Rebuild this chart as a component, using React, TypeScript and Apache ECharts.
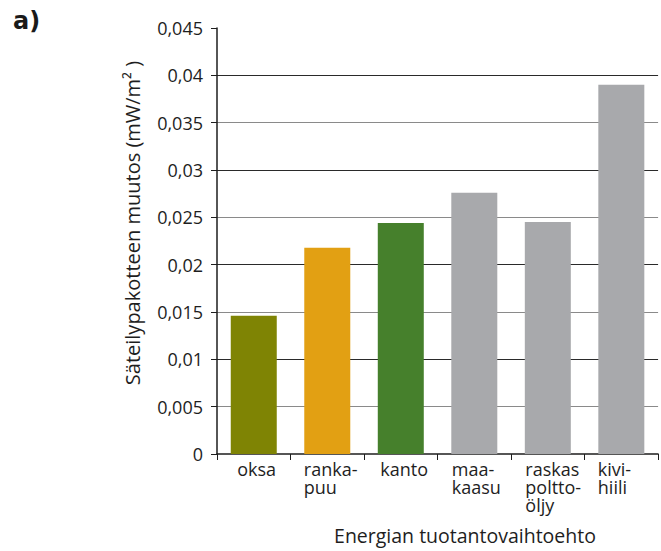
import React, { useEffect, useRef } from "react";
import * as echarts from "echarts";

// Energy production options and their radiative forcing change (mW/m²)
const categories: string[] = ["oksa", "ranka-\npuu", "kanto", "maa-\nkaasu", "raskas\npoltto-\nöljy", "kivi-\nhiili"];
const values: number[] = [0.0146, 0.0218, 0.0244, 0.0276, 0.0245, 0.039];
const barColors: string[] = ["#7f8404", "#e2a013", "#46802c", "#a8a9ac", "#a8a9ac", "#a8a9ac"];
const yTicks = { min: 0, max: 0.045, interval: 0.005 };
const yAxisTitle = "Säteilypakotteen muutos (mW/m² )";
const xAxisTitle = "Energian tuotantovaihtoehto";
const panelTag = "a)";

// left inset of each category label inside its slot
const labelInset: number[] = [21, 14, 17, 15, 15, 14];

const FONT = "'Open Sans', Lato, sans-serif";
const INK = "#1e1e1e";
const FS = 18;

export default function App() {
  const ref = useRef<HTMLDivElement>(null);

  useEffect(() => {
    if (!ref.current) return;
    const chart = echarts.init(ref.current, undefined, { renderer: "svg" });

    const rich: Record<string, any> = {};
    labelInset.forEach((p, i) => {
      rich["p" + i] = { width: p, align: "left", fontSize: FS, lineHeight: 18, fontFamily: FONT };
      rich["t" + i] = {
        width: 75 - p,
        align: "left",
        fontSize: FS,
        lineHeight: 18,
        fontFamily: FONT,
        color: INK,
      };
    });

    chart.setOption({
      animation: false,
      grid: { left: 217, top: 28, width: 451, height: 426 },
      xAxis: {
        type: "category",
        data: categories,
        axisLine: { lineStyle: { color: INK, width: 1.5 } },
        axisTick: { show: true, length: 6, alignWithLabel: false, lineStyle: { color: INK } },
        axisLabel: {
          interval: 0,
          margin: 6,
          fontSize: FS,
          lineHeight: 18,
          fontFamily: FONT,
          color: INK,
          formatter: (value: string, idx: number) =>
            value
              .split("\n")
              .map((l) => `{p${idx}| }{t${idx}|${l}}`)
              .join("\n"),
          rich,
        },
      },
      yAxis: {
        type: "value",
        min: yTicks.min,
        max: yTicks.max,
        interval: yTicks.interval,
        axisLine: { show: true, lineStyle: { color: INK, width: 1.5 } },
        axisTick: { show: true, length: 6, lineStyle: { color: INK } },
        axisLabel: {
          margin: 14,
          fontSize: FS,
          fontFamily: FONT,
          color: INK,
          formatter: (v: number) => String(+v.toFixed(3)).replace(".", ","),
        },
        splitLine: {
          show: true,
          showMinLine: false,
          showMaxLine: false,
          lineStyle: { color: ["#8a8a8a", "#2a2a2a"], width: 1 },
        },
      },
      series: [
        {
          type: "bar",
          barWidth: 46,
          data: values.map((v, i) => ({ value: v, itemStyle: { color: barColors[i] } })),
        },
      ],
      graphic: [
        {
          type: "text",
          left: 13,
          top: 9,
          style: { text: panelTag, font: "bold 24px 'DejaVu Sans', sans-serif", fill: "#1a1a1a" },
        },
        {
          type: "text",
          x: 132,
          y: 223,
          rotation: Math.PI / 2,
          style: {
            text: yAxisTitle,
            fontSize: 20,
            fontFamily: FONT,
            fill: INK,
            align: "center",
            verticalAlign: "middle",
          },
        },
        {
          type: "text",
          x: 465,
          y: 535,
          style: {
            text: xAxisTitle,
            fontSize: 19.5,
            fontFamily: FONT,
            fill: INK,
            align: "center",
            verticalAlign: "middle",
          },
        },
      ],
    });

    return () => chart.dispose();
  }, []);

  return (
    <div
      ref={ref}
      style={{ position: "fixed", left: 0, top: 0, width: 661, height: 551, background: "#fff" }}
    />
  );
}
